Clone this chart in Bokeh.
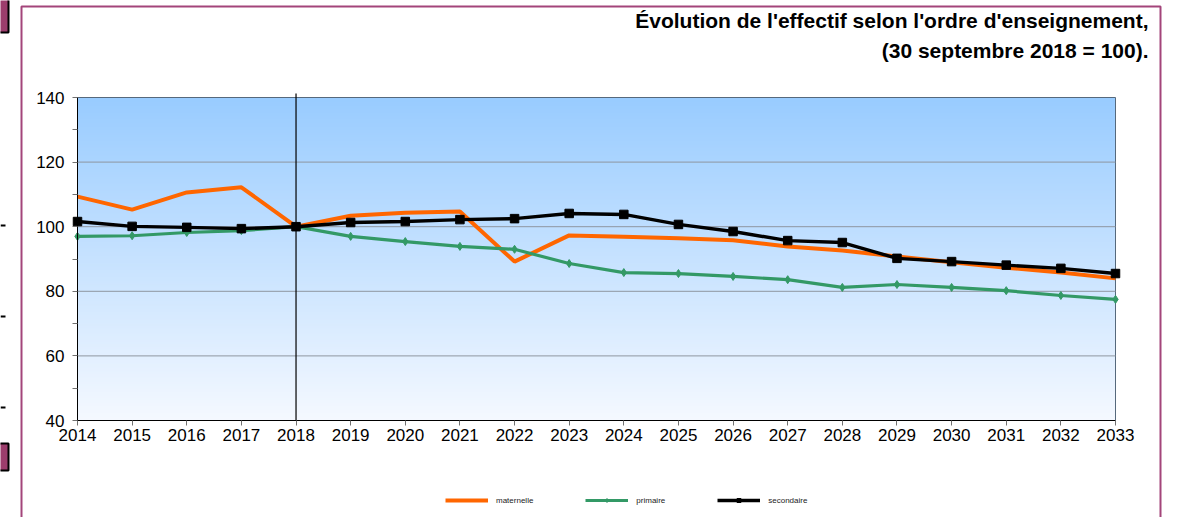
import numpy as np
from bokeh.plotting import figure
from bokeh.models import FixedTicker, Legend, LegendItem, Label, BoxAnnotation
from bokeh.embed import file_html
from bokeh.resources import INLINE

# ---------------- data ----------------
years = list(range(2014, 2034))
maternelle = [109.3, 105.3, 110.6, 112.2, 100.0, 103.4, 104.3, 104.7, 89.2, 97.3,
              96.9, 96.4, 95.8, 93.9, 92.6, 90.8, 89.0, 87.3, 85.8, 84.0]
primaire = [97.0, 97.2, 98.2, 98.8, 100.0, 97.0, 95.4, 93.9, 93.0, 88.6,
            85.8, 85.5, 84.6, 83.6, 81.2, 82.1, 81.2, 80.2, 78.7, 77.5]
secondaire = [101.6, 100.1, 99.8, 99.4, 100.0, 101.3, 101.6, 102.2, 102.5, 104.1,
              103.8, 100.7, 98.5, 95.7, 95.1, 90.2, 89.2, 88.1, 87.1, 85.5]
y_ticks = [40, 60, 80, 100, 120, 140]
y_minor = [50, 70, 90, 110, 130]
grid_values = [60, 80, 100, 120]
reference_year = 2018
title_lines = ["Évolution de l'effectif selon l'ordre d'enseignement,",
               "(30 septembre 2018 = 100)."]
series_names = ["maternelle", "primaire", "secondaire"]

# ---------------- layout (pixels) ----------------
W, H = 1180, 517
PX_LEFT, PX_RIGHT, PX_TOP, PX_BOTTOM = 77, 1115, 97, 420
FONT = "Liberation Sans"
PURPLE = "#a3457a"

x0, x1 = years[0], years[-1]
y0, y1 = y_ticks[0], y_ticks[-1]
sx = (PX_RIGHT - PX_LEFT) / (x1 - x0)
sy = (PX_BOTTOM - PX_TOP) / (y1 - y0)
xr = (x0 - PX_LEFT / sx, x1 + (W - PX_RIGHT) / sx)
yr = (y0 - (H - PX_BOTTOM) / sy, y1 + PX_TOP / sy)

p = figure(width=W, height=H, output_backend="svg", toolbar_location=None,
           x_range=xr, y_range=yr, title_location=None,
           min_border=0, min_border_left=0, min_border_right=0,
           min_border_top=0, min_border_bottom=0)
p.background_fill_color = "white"
p.border_fill_color = "white"
p.outline_line_color = None
p.xgrid.visible = False
p.ygrid.visible = False

# gradient background of the plot area
n = 256
t = np.linspace(0, 1, n)  # 0 bottom -> 1 top
c_top = np.array([153, 204, 255])
c_bot = np.array([245, 249, 255])
cols = (c_bot[None, :] * (1 - t[:, None]) + c_top[None, :] * t[:, None]).astype(np.uint8)
img = np.zeros((n, 1), dtype=np.uint32)
view = img.view(dtype=np.uint8).reshape((n, 1, 4))
view[:, 0, 0] = cols[:, 0]
view[:, 0, 1] = cols[:, 1]
view[:, 0, 2] = cols[:, 2]
view[:, 0, 3] = 255
p.image_rgba(image=[img], x=x0, y=y0, dw=x1 - x0, dh=y1 - y0, level="image")

# horizontal grid lines
p.segment(x0=[x0] * len(grid_values), y0=grid_values, x1=[x1] * len(grid_values),
          y1=grid_values, line_color="#8e96a0", line_width=1)

# plot-area border (top / right)
p.add_layout(BoxAnnotation(left=x0, right=x1, bottom=y0, top=y1, fill_alpha=0,
                           line_color="#56697c", line_alpha=1, line_width=1,
                           level="underlay"))

# axes, fixed on the plot area
xa = p.xaxis[0]
ya = p.yaxis[0]
xa.fixed_location = y0
ya.fixed_location = x0
xa.bounds = (x0, x1)
ya.bounds = (y0, y1)
ya.ticker = FixedTicker(ticks=y_ticks, minor_ticks=y_minor)
xa.ticker = FixedTicker(ticks=years)
for ax in (xa, ya):
    ax.axis_line_color = "black"
    ax.axis_line_width = 1
    ax.major_tick_line_color = "#707070"
    ax.minor_tick_line_color = "#707070"
    ax.major_tick_in = 0
    ax.minor_tick_in = 0
    ax.major_tick_out = 5
    ax.minor_tick_out = 5
    ax.major_label_text_font = FONT
    ax.major_label_text_font_size = "17px"
    ax.major_label_text_color = "black"
ya.major_label_standoff = 8
xa.major_label_standoff = 3
xa.minor_tick_out = 0

# reference line at 2018, slightly overshooting the top
p.segment(x0=[reference_year], y0=[y0], x1=[reference_year], y1=[y1 + 4 / sy],
          line_color="black", line_width=1.2)

# series
r_m = p.line(years, maternelle, line_color="#ff6600", line_width=4)
r_p = p.line(years, primaire, line_color="#339966", line_width=3.2)
s_p = p.scatter(years, primaire, marker="diamond", size=8, color="#339966")
r_s = p.line(years, secondaire, line_color="black", line_width=3.4)
s_s = p.scatter(years, secondaire, marker="square", size=8.5, color="black")

legend = Legend(items=[LegendItem(label=series_names[0], renderers=[r_m]),
                       LegendItem(label=series_names[1], renderers=[r_p, s_p]),
                       LegendItem(label=series_names[2], renderers=[r_s, s_s])],
                orientation="horizontal", location=(445, 12),
                label_text_font=FONT, label_text_font_size="8px",
                label_text_color="#222222",
                glyph_width=43, glyph_height=10, label_standoff=8, spacing=52,
                padding=0, margin=0, border_line_color=None,
                background_fill_alpha=0)
p.add_layout(legend, "center")

# titles
for i, line in enumerate(title_lines):
    p.add_layout(Label(x=1148, y=H - 20 - 30 * i, x_units="screen", y_units="screen",
                       text=line, text_align="right", text_baseline="middle",
                       text_font=FONT, text_font_style="bold", text_font_size="21px",
                       text_color="black"))

# outer purple frame
p.add_layout(BoxAnnotation(left=21, right=1160, top=H - 6, bottom=-20,
                           left_units="screen", right_units="screen",
                           top_units="screen", bottom_units="screen",
                           fill_alpha=0, line_color=PURPLE, line_alpha=1, line_width=2))
# fragments of neighbouring content at the left edge
for (b, t_) in [(H - 32, H + 5), (H - 470, H - 443)]:
    p.add_layout(BoxAnnotation(left=-5, right=8, top=t_, bottom=b,
                               left_units="screen", right_units="screen",
                               top_units="screen", bottom_units="screen",
                               fill_color="#9c3d6c", fill_alpha=1,
                               line_color="black", line_alpha=1, line_width=2))
for yy in [225, 316, 407]:
    p.add_layout(BoxAnnotation(left=0, right=5, top=H - yy + 1, bottom=H - yy - 1,
                               left_units="screen", right_units="screen",
                               top_units="screen", bottom_units="screen",
                               fill_color="black", fill_alpha=1, line_alpha=0))

open("out.html", "w").write(file_html(p, INLINE))
